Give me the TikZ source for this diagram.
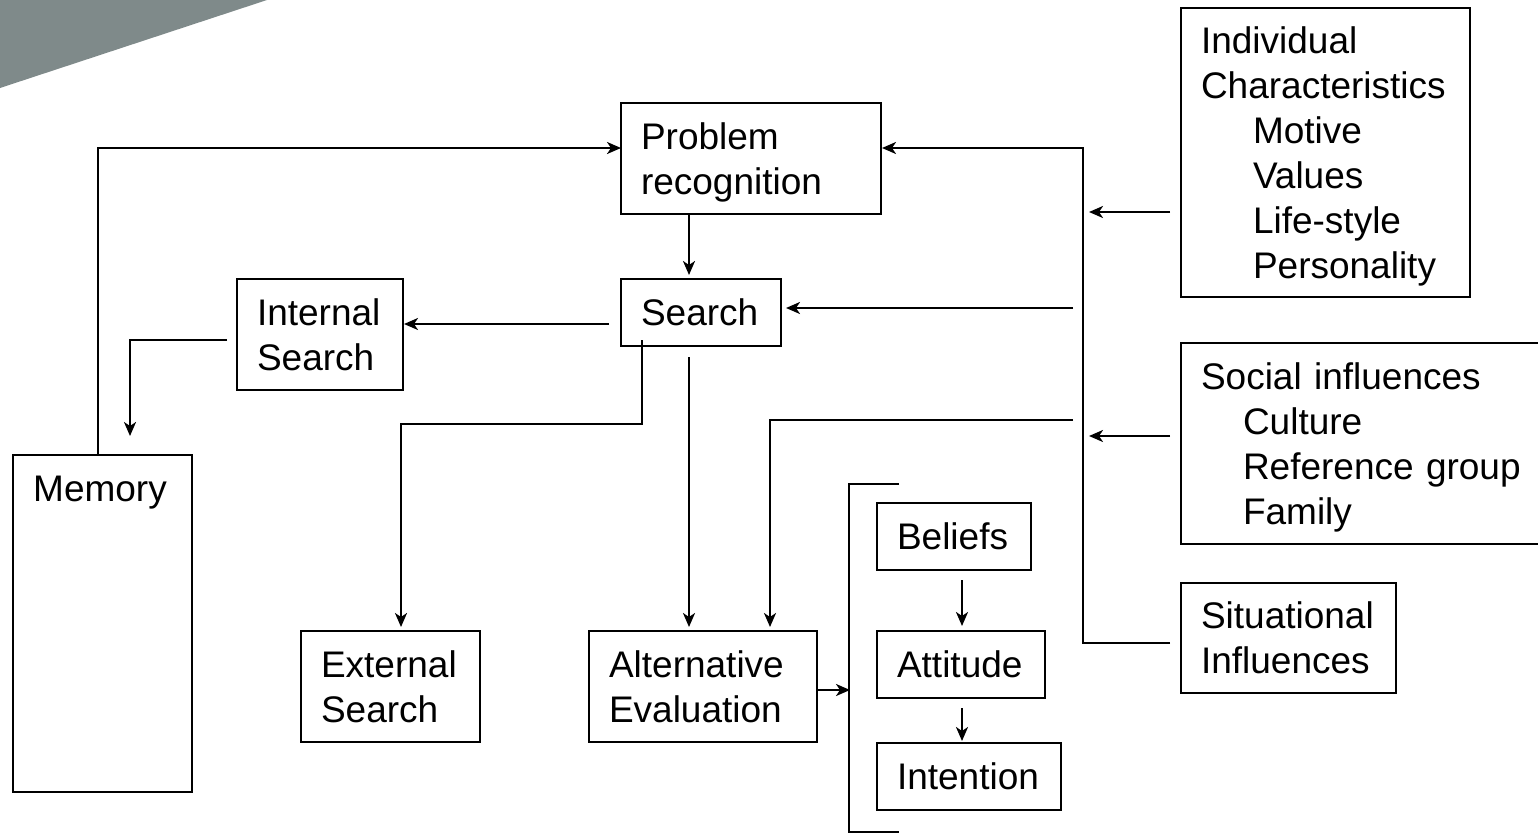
\documentclass[tikz,border=0pt]{standalone}
\usepackage{fontspec}
\setmainfont{Liberation Sans}
\usetikzlibrary{arrows.meta,calc}
\definecolor{banner}{HTML}{7F8A8A}
% invisible strut that gives every text block the same top and bottom
\newcommand\linestrut{\rule[-9pt]{0pt}{44.5pt}}
\begin{document}
\begin{tikzpicture}[x=1pt,y=-1pt,
  box/.style={draw, line width=2.3pt, anchor=north west, align=left, outer sep=0pt,
    inner xsep=20pt, inner ysep=0pt, font=\fontsize{37}{45}\selectfont,
    execute at begin node={\linestrut}, execute at end node={\linestrut}},
  txt/.style={inner sep=0pt, font=\fontsize{37}{45}\selectfont},
  link/.style={line width=2.3pt},
  arr/.style={link, -{Stealth[length=14pt,width=12pt,inset=4pt]}}]
\useasboundingbox (0,0) rectangle (1538,835);
\clip (0,0) rectangle (1538,835);

% corner banner
\fill[banner] (0,0) -- (267,0) -- (0,88) -- cycle;

% process boxes
\node[box, text width=220, minimum height=111] (pr) at (621,103) {Problem\\recognition};
\node[box, text width=120, minimum height=67] (se) at (621,279) {Search};
\node[box, text width=126, minimum height=111] (is) at (237,279) {Internal\\Search};
\node[draw, line width=2.3pt, anchor=north west, outer sep=0pt, inner sep=0pt,
  minimum width=179, minimum height=337] (mem) at (13,455) {};
\node[txt, anchor=base west] (memlabel) at (33,501) {Memory};
\node[box, text width=139, minimum height=111] (es) at (301,631) {External\\Search};
\node[box, text width=188, minimum height=111] (ae) at (589,631) {Alternative\\Evaluation};
\node[box, text width=114, minimum height=67] (be) at (877,503) {Beliefs};
\node[box, text width=128, minimum height=67] (at) at (877,631) {Attitude};
\node[box, text width=144, minimum height=67] (in) at (877,743) {Intention};

% influence boxes
\node[box, text width=249, minimum height=289] (ic) at (1181,8)
  {Individual\\Characteristics\\\hspace*{52pt}Motive\\\hspace*{52pt}Values\\\hspace*{52pt}Life-style\\\hspace*{52pt}Personality};
\node[box, text width=322, minimum height=201] (so) at (1181,343)
  {Social influences\\\hspace*{42pt}Culture\\\hspace*{42pt}Reference group\\\hspace*{42pt}Family};
\node[box, text width=175, minimum height=110] (si) at (1181,583) {Situational\\Influences};

% free ends on the influence bus
\coordinate (icin) at (1089,212);
\coordinate (soin) at (1089,436);
\coordinate (sb) at (1073,308);
\coordinate (ab) at (1073,420);
\coordinate (brin) at (850,690);

% connectors
\draw[arr] ([xshift=-4.5pt]mem.north) |- ([yshift=10.5pt]pr.west);
\draw[arr] ([xshift=-62pt]pr.south) -- ([xshift=-12pt,yshift=4pt]se.north);
\draw[arr] ([xshift=-12pt,yshift=-11.5pt]se.west) -- ([xshift=1pt,yshift=10.5pt]is.east);
\draw[arr] ([xshift=-10pt,yshift=-5.5pt]is.west) -| ([xshift=27.5pt,yshift=19pt]mem.north);
\draw[arr] ([xshift=-59pt,yshift=6pt]se.south) -- ++(0,84) -| ([xshift=10.5pt,yshift=4pt]es.north);
\draw[arr] ([xshift=-12pt,yshift=-11pt]se.south) -- ([xshift=-14pt,yshift=4pt]ae.north);
\draw[arr] (ab) -| ([xshift=67pt,yshift=4pt]ae.north);
\draw[arr] (sb) -- ([xshift=5pt,yshift=4.5pt]se.east);
\draw[arr] ([xshift=-11pt,yshift=-5pt]si.west) -- ++(-87,0) |- ([xshift=1pt,yshift=10.5pt]pr.east);
\draw[arr] ([xshift=-11pt,yshift=-59.5pt]ic.west) -- (icin);
\draw[arr] ([xshift=-11pt,yshift=7.5pt]so.west) -- (soin);
\draw[arr] ([yshift=-3.5pt]ae.east) -- (brin);
\draw[arr] ([xshift=8pt,yshift=-10pt]be.south) -- ([xshift=1pt,yshift=5pt]at.north);
\draw[arr] ([xshift=1pt,yshift=-10pt]at.south) -- ([xshift=-7pt,yshift=2pt]in.north);

% bracket around the attitude chain
\draw[link] (899,484) -- (849,484) -- (849,832) -- (899,832);
\end{tikzpicture}
\end{document}
